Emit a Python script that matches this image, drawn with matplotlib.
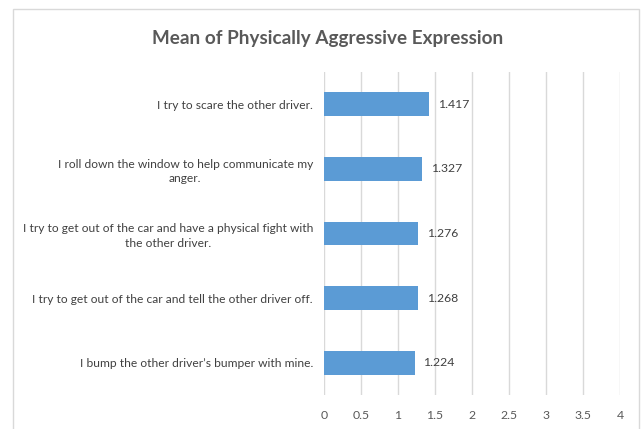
import matplotlib.pyplot as plt
from matplotlib.patches import Rectangle

# data, top to bottom as in the chart
labels = [
    "I try to scare the other driver.",
    "I roll down the window to help communicate my\nanger.",
    "I try to get out of the car and have a physical fight with\nthe other driver.",
    "I try to get out of the car and tell the other driver off.",
    "I bump the other driver\u2019s bumper with mine.",
]
means = [1.417, 1.327, 1.276, 1.268, 1.224]
xticks = [0, 0.5, 1, 1.5, 2, 2.5, 3, 3.5, 4]
xticklabels = ["0", "0.5", "1", "1.5", "2", "2.5", "3", "3.5", "4"]

plt.rcParams['font.family'] = ['Lato', 'DejaVu Sans']
txt = '#595959'
bar_color = '#5B9BD5'

fig = plt.figure(figsize=(6.44, 4.29), dpi=100)
ax = fig.add_axes([0.5031, 0.0793, 0.4596, 0.7529])

pos = list(range(len(labels)))[::-1]
ax.barh(pos, means, height=0.37, color=bar_color, zorder=3)
for p, v in zip(pos, means):
    ax.text(v + 0.12, p, f"{v:.3f}", va='center', ha='left', fontsize=8.8, color='#404040')

ax.set_xlim(0, 4)
ax.set_ylim(-0.5, len(labels) - 0.5)
ax.set_xticks(xticks)
ax.set_xticklabels(xticklabels, fontsize=8.8, color=txt)
ax.set_yticks(pos)
ax.set_yticklabels(labels, fontsize=8.65, color='#404040', multialignment='center', linespacing=1.4)
ax.tick_params(axis='both', length=0)
ax.tick_params(axis='y', pad=8)
ax.tick_params(axis='x', pad=11)
ax.grid(axis='x', color='#D9D9D9', linewidth=1, zorder=0)
for s in ax.spines.values():
    s.set_visible(False)

fig.text(0.508, 0.91, "Mean of Physically Aggressive Expression", ha='center', va='center',
         fontsize=13.6, fontweight='bold', color=txt)

# chart area border
fig.patches.append(Rectangle((13 / 644, -0.1), 626 / 644, 1.1 - 9 / 429, transform=fig.transFigure,
                             fill=False, edgecolor='#D9D9D9', linewidth=1))

fig.savefig('out.png', dpi=100)
